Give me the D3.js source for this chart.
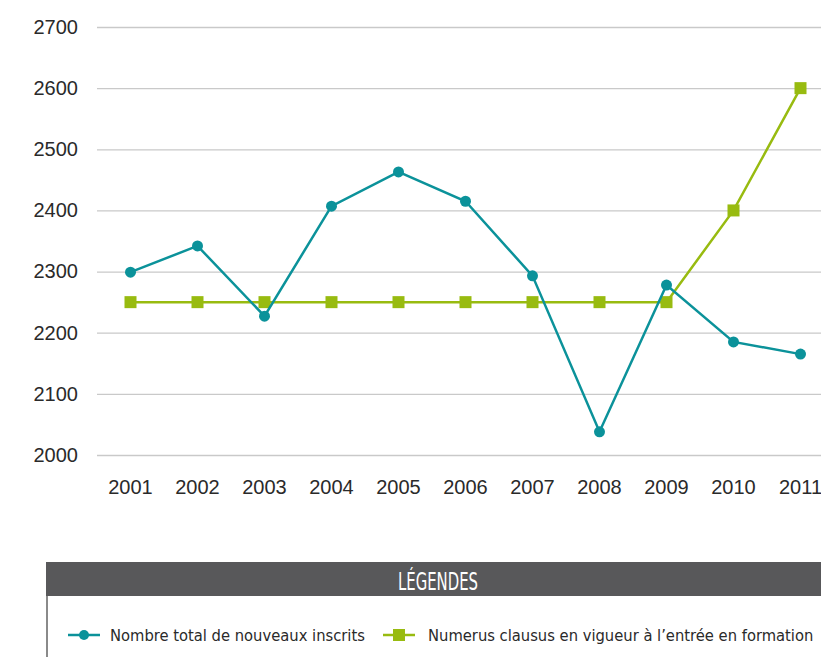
<!DOCTYPE html>
<html>
<head>
<meta charset="utf-8">
<script src="https://cdn.jsdelivr.net/npm/d3@7"></script>
<style>
  body { margin: 0; background: #fff; overflow: hidden; }
  svg { display: block; }
</style>
</head>
<body>
<svg id="chart" width="821" height="657"></svg>
<script>
// data
const years = ['2001', '2002', '2003', '2004', '2005', '2006', '2007', '2008', '2009', '2010', '2011'];
const inscrits = [2299, 2342, 2227, 2407, 2463, 2415, 2293, 2038, 2278, 2185, 2165];
const numerus = [2250, 2250, 2250, 2250, 2250, 2250, 2250, 2250, 2250, 2400, 2600];
const yTicks = [2000, 2100, 2200, 2300, 2400, 2500, 2600, 2700];
const legendLabels = ['Nombre total de nouveaux inscrits', 'Numerus clausus en vigueur à l\u2019entrée en formation'];

const cfg = {
  left: 97,
  right: 834,
  top: 27,
  bottom: 455,
  teal: '#0b929a',
  green: '#98bb10',
  gridColor: '#c9c9c9',
  textColor: '#2a2a2a',
  font: '"Liberation Sans", Arial, sans-serif',
  narrow: '"Liberation Sans Narrow", "DejaVu Sans Condensed", sans-serif',
};

const svg = d3.select('#chart');

const x = d3.scaleBand().domain(years).range([cfg.left, cfg.right]);
const y = d3.scaleLinear().domain([2000, 2700]).range([cfg.bottom, cfg.top]);
const cx = d => x(d) + x.bandwidth() / 2;

// gridlines + y labels
const yAxis = svg.append('g')
  .attr('class', 'y-axis')
  .call(d3.axisLeft(y).tickValues(yTicks).tickSize(0).tickPadding(19).tickFormat(d3.format('d')))
  .attr('transform', 'translate(' + cfg.left + ',0)');
yAxis.select('.domain').remove();
yAxis.selectAll('.tick text')
  .style('font-family', cfg.font)
  .style('font-size', '20px')
  .attr('fill', cfg.textColor);
yAxis.selectAll('.tick line')
  .attr('x2', cfg.right - cfg.left)
  .attr('stroke', cfg.gridColor)
  .attr('stroke-width', 1.3);

// x labels
const xAxis = svg.append('g')
  .attr('transform', 'translate(0,' + cfg.bottom + ')')
  .call(d3.axisBottom(x).tickSize(0).tickPadding(25));
xAxis.select('.domain').remove();
xAxis.selectAll('.tick text')
  .style('font-family', cfg.font)
  .style('font-size', '20px')
  .attr('fill', cfg.textColor);

// lines
const line = d3.line().x((d, i) => cx(years[i])).y(d => y(d));

svg.append('path')
  .datum(numerus)
  .attr('d', line)
  .attr('fill', 'none')
  .attr('stroke', cfg.green)
  .attr('stroke-width', 2.5);

svg.selectAll('.sq')
  .data(numerus)
  .enter()
  .append('rect')
  .attr('class', 'sq')
  .attr('x', (d, i) => cx(years[i]) - 6)
  .attr('y', d => y(d) - 6)
  .attr('width', 12)
  .attr('height', 12)
  .attr('fill', cfg.green);

svg.append('path')
  .datum(inscrits)
  .attr('d', line)
  .attr('fill', 'none')
  .attr('stroke', cfg.teal)
  .attr('stroke-width', 2.5);

svg.selectAll('.dot')
  .data(inscrits)
  .enter()
  .append('circle')
  .attr('class', 'dot')
  .attr('cx', (d, i) => cx(years[i]))
  .attr('cy', d => y(d))
  .attr('r', 5.5)
  .attr('fill', cfg.teal);

// legend box
const legend = svg.append('g').attr('transform', 'translate(46,562)');
legend.append('rect')
  .attr('width', 780)
  .attr('height', 34)
  .attr('fill', '#58585a');
legend.append('line')
  .attr('x1', 1).attr('x2', 1)
  .attr('y1', 34).attr('y2', 100)
  .attr('stroke', '#8a8a8a')
  .attr('stroke-width', 2);
legend.append('text')
  .text('LÉGENDES')
  .attr('x', 352)
  .attr('y', 28)
  .attr('textLength', 80)
  .attr('lengthAdjust', 'spacingAndGlyphs')
  .attr('fill', '#fff')
  .style('font-family', cfg.narrow)
  .style('font-size', '24px');

const items = legend.selectAll('.item')
  .data(legendLabels)
  .enter()
  .append('g')
  .attr('class', 'item')
  .attr('transform', (d, i) => 'translate(' + (i === 0 ? 22 : 337) + ',73)');

items.append('line')
  .attr('x2', 32)
  .attr('stroke', (d, i) => (i === 0 ? cfg.teal : cfg.green))
  .attr('stroke-width', 2.5);
items.filter((d, i) => i === 0)
  .append('circle')
  .attr('cx', 16).attr('r', 5)
  .attr('fill', cfg.teal);
items.filter((d, i) => i === 1)
  .append('rect')
  .attr('x', 10).attr('y', -6).attr('width', 12).attr('height', 12)
  .attr('fill', cfg.green);
items.append('text')
  .text(d => d)
  .attr('x', (d, i) => (i === 0 ? 42 : 45))
  .attr('dy', '0.35em')
  .attr('fill', cfg.textColor)
  .style('font-family', cfg.narrow)
  .style('font-size', '16.4px');
</script>
</body>
</html>
